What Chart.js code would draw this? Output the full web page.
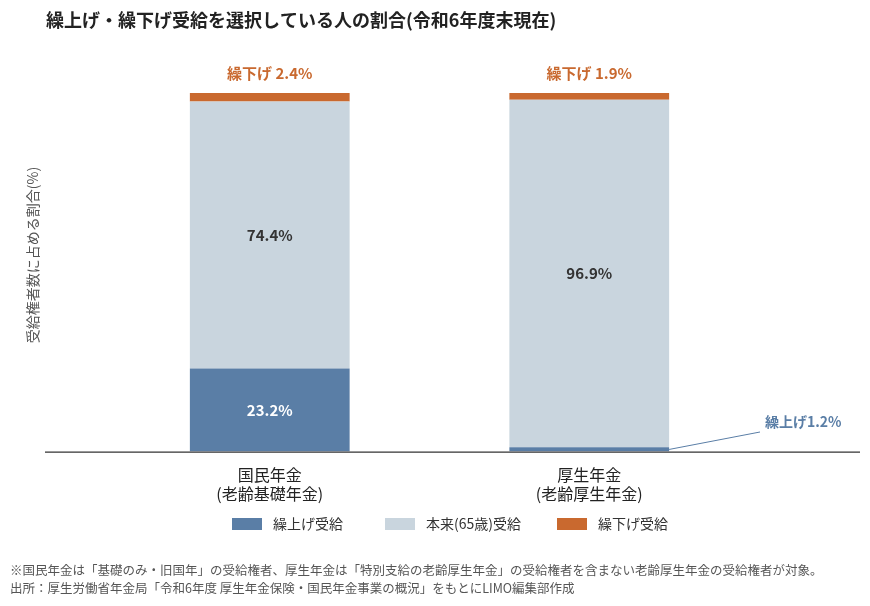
<!DOCTYPE html>
<html><head><meta charset="utf-8">
<script src="https://cdn.jsdelivr.net/npm/chart.js@4"></script>
<style>html,body{margin:0;padding:0;background:#fff}#w{width:870px;height:606px}</style>
</head><body><div id="w"><canvas id="c"></canvas></div>
<script>
const categories=[["国民年金","(老齢基礎年金)"],["厚生年金","(老齢厚生年金)"]];
const seriesNames=["繰上げ受給","本来(65歳)受給","繰下げ受給"];
const kuriage=[23.2,1.2];
const honrai=[74.4,96.9];
const kurisage=[2.4,1.9];
const colors=["#5a7ea6","#c9d5de","#c9692f"];
const F='"Noto Sans CJK JP","Noto Sans",sans-serif';
const deco={id:'deco',afterDatasetsDraw(ch){
 const c=ch.ctx,x=ch.scales.x,y=ch.scales.y;
 c.save();
 c.fillStyle='#222';c.font='bold 18px '+F;c.textAlign='left';c.textBaseline='middle';
 c.fillText('繰上げ・繰下げ受給を選択している人の割合(令和6年度末現在)',46,20);
 c.strokeStyle='#333';c.lineWidth=1.2;c.beginPath();c.moveTo(45,y.getPixelForValue(0)+0.5);c.lineTo(860,y.getPixelForValue(0)+0.5);c.stroke();
 c.save();c.translate(33,255);c.rotate(-Math.PI/2);c.fillStyle='#555';c.font='14px '+F;c.textAlign='center';c.fillText('受給権者数に占める割合(%)',0,0);c.restore();
 c.font='bold 15px '+F;c.textAlign='center';
 for(let i=0;i<2;i++){
  const cx=x.getPixelForValue(i);
  if(kuriage[i]>5){c.fillStyle='#fff';c.fillText(kuriage[i].toFixed(1)+'%',cx,y.getPixelForValue(kuriage[i]/2));}
  c.fillStyle='#333';c.fillText(honrai[i].toFixed(1)+'%',cx,y.getPixelForValue(kuriage[i]+honrai[i]/2));
  c.fillStyle=colors[2];c.fillText('繰下げ '+kurisage[i].toFixed(1)+'%',cx,y.getPixelForValue(100)-20);
 }
 const m=ch.getDatasetMeta(0).data[1];
 c.strokeStyle=colors[0];c.lineWidth=1;c.beginPath();c.moveTo(m.x+m.width/2,y.getPixelForValue(kuriage[1]/2));c.lineTo(760,432);c.stroke();
 c.fillStyle=colors[0];c.textAlign='left';c.font='bold 14px '+F;c.fillText('繰上げ'+kuriage[1].toFixed(1)+'%',765,422);
 const lx=[232,385,557];c.font='14px '+F;
 for(let k=0;k<3;k++){c.fillStyle=colors[k];c.fillRect(lx[k],518,30,12);c.fillStyle='#333';c.fillText(seriesNames[k],lx[k]+41,524);}
 c.font='12.5px '+F;c.fillStyle='#555';
 c.fillText('※国民年金は「基礎のみ・旧国年」の受給権者、厚生年金は「特別支給の老齢厚生年金」の受給権者を含まない老齢厚生年金の受給権者が対象。',10,570);
 c.fillText('出所：厚生労働省年金局「令和6年度 厚生年金保険・国民年金事業の概況」をもとにLIMO編集部作成',10,588);
 c.restore();
}};
new Chart(document.getElementById('c'),{type:'bar',
 data:{labels:categories,datasets:[
  {label:seriesNames[0],data:kuriage,backgroundColor:colors[0]},
  {label:seriesNames[1],data:honrai,backgroundColor:colors[1]},
  {label:seriesNames[2],data:kurisage,backgroundColor:colors[2]}]},
 options:{responsive:true,maintainAspectRatio:false,animation:false,
  layout:{padding:{left:110,right:121,top:93,bottom:96}},
  plugins:{legend:{display:false},tooltip:{enabled:false}},
  datasets:{bar:{categoryPercentage:1,barPercentage:0.5}},
  scales:{x:{stacked:true,grid:{display:false},border:{display:false},ticks:{color:'#222',font:{family:F,size:16},padding:6}},
   y:{stacked:true,display:false,min:0,max:100}}},
 plugins:[deco]});
</script></body></html>
